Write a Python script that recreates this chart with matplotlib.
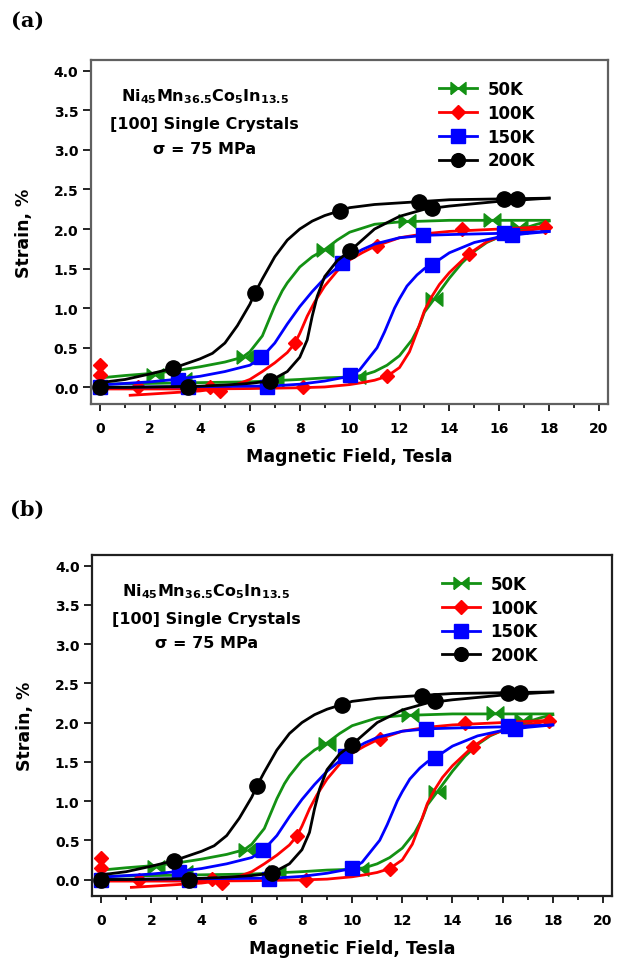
import matplotlib
matplotlib.use('Agg')
import matplotlib.pyplot as plt
from matplotlib.lines import Line2D
from matplotlib.path import Path

plt.rcParams['font.family'] = ['DejaVu Sans']
plt.rcParams['font.weight'] = 'bold'
plt.rcParams['mathtext.fontset'] = 'custom'
plt.rcParams['mathtext.bf'] = 'DejaVu Sans:bold'
plt.rcParams['mathtext.rm'] = 'DejaVu Sans:bold'
plt.rcParams['mathtext.default'] = 'bf'

labels = ['50K', '100K', '150K', '200K']
colors = ['#139113', '#ff0000', '#0000ff', '#000000']

# 50K
g_left_x = [0, 1, 2.2, 3, 4, 5, 5.7, 6, 6.5, 7, 7.3, 7.5, 8, 8.5, 9, 9.5, 10, 11, 12, 14, 16, 18]
g_left_y = [0.12, 0.15, 0.18, 0.21, 0.26, 0.32, 0.38, 0.45, 0.65, 1.03, 1.22, 1.32, 1.52, 1.65, 1.74,
            1.86, 1.96, 2.06, 2.09, 2.11, 2.11, 2.11]
g_right_x = [0, 2, 4, 6, 8, 9, 10, 10.5, 11, 11.5, 12, 12.5, 12.8, 13, 13.4, 14, 14.5, 15, 15.5, 16,
             16.5, 17, 17.5, 18]
g_right_y = [0.04, 0.05, 0.06, 0.07, 0.1, 0.12, 0.13, 0.15, 0.2, 0.28, 0.4, 0.6, 0.78, 0.95, 1.12, 1.38,
             1.57, 1.72, 1.83, 1.9, 1.95, 2.01, 2.06, 2.1]
g_pts_x = [2.2, 3.3, 5.8, 7.0, 9.0, 10.3, 12.3, 13.4, 15.7, 16.8]
g_pts_y = [0.16, 0.1, 0.38, 0.09, 1.73, 0.13, 2.10, 1.12, 2.12, 2.03]

# 100K
r_left_x = [1.2, 2, 3, 4, 5, 5.5, 6, 6.5, 7, 7.5, 7.8, 8, 8.3, 8.6, 9, 9.5, 10, 10.5, 11, 12, 13, 14, 16, 18]
r_left_y = [-0.1, -0.085, -0.065, -0.045, -0.005, 0.04, 0.1, 0.2, 0.31, 0.44, 0.555, 0.68, 0.9, 1.08,
            1.28, 1.47, 1.61, 1.7, 1.78, 1.89, 1.94, 1.97, 2.0, 2.03]
r_right_x = [0, 2, 4, 6, 8, 9, 10, 10.5, 11, 11.5, 12, 12.4, 12.7, 13, 13.3, 13.6, 14, 14.5, 14.8, 15.5,
             16, 16.7, 17.5, 18]
r_right_y = [-0.02, -0.02, -0.02, -0.015, -0.005, 0.005, 0.035, 0.06, 0.09, 0.14, 0.25, 0.45, 0.7, 0.97,
             1.15, 1.3, 1.45, 1.6, 1.69, 1.84, 1.9, 1.96, 2.0, 2.03]
r_pts_x = [0, 0, 1.5, 4.4, 4.8, 7.8, 8.15, 11.1, 11.5, 14.5, 14.8, 17.85]
r_pts_y = [0.28, 0.15, 0.0, 0.01, -0.04, 0.555, 0.0, 1.79, 0.14, 2.0, 1.69, 2.02]

# 150K
b_left_x = [0, 1, 2, 3, 4, 5, 6, 6.45, 7, 7.5, 8, 8.5, 9, 9.5, 10, 10.5, 11, 12, 13, 14, 16, 18]
b_left_y = [0.03, 0.05, 0.07, 0.1, 0.14, 0.2, 0.28, 0.37, 0.56, 0.8, 1.02, 1.21, 1.38, 1.51, 1.65,
            1.74, 1.81, 1.89, 1.92, 1.93, 1.945, 1.97]
b_right_x = [0, 2, 4, 6, 7, 8, 9, 10, 10.4, 10.8, 11.1, 11.4, 11.6, 11.8, 12.0, 12.3, 12.7, 13.0, 13.3,
             14, 15, 16, 17, 18]
b_right_y = [0.0, 0.005, 0.01, 0.015, 0.02, 0.04, 0.08, 0.14, 0.22, 0.38, 0.5, 0.7, 0.85, 1.0, 1.12,
             1.28, 1.42, 1.5, 1.55, 1.7, 1.83, 1.9, 1.94, 1.97]
b_pts_x = [0, 3.1, 3.5, 6.45, 6.7, 9.7, 10.0, 12.95, 13.3, 16.2, 16.5]
b_pts_y = [0.0, 0.09, 0.0, 0.38, 0.01, 1.57, 0.15, 1.92, 1.55, 1.95, 1.92]

# 200K
k_left_x = [0, 1, 2, 2.9, 4, 4.5, 5, 5.5, 6, 6.2, 6.5, 7, 7.5, 8, 8.5, 9, 9.6, 10, 11, 12, 13, 14, 16, 18]
k_left_y = [0.06, 0.1, 0.17, 0.24, 0.36, 0.43, 0.56, 0.78, 1.05, 1.19, 1.37, 1.65, 1.86, 2.0, 2.1,
            2.17, 2.23, 2.27, 2.31, 2.33, 2.35, 2.37, 2.38, 2.39]
k_right_x = [0, 1, 2, 3, 4, 5, 6, 6.8, 7.5, 8, 8.3, 8.5, 8.7, 9, 9.5, 10, 11, 12, 13, 14, 15, 16, 17, 18]
k_right_y = [0.0, 0.0, 0.005, 0.01, 0.015, 0.03, 0.05, 0.08, 0.2, 0.38, 0.6, 0.9, 1.15, 1.4, 1.6, 1.72,
             2.0, 2.16, 2.25, 2.29, 2.32, 2.35, 2.37, 2.39]
k_pts_x = [0, 2.9, 3.5, 6.2, 6.8, 9.6, 10.0, 12.8, 13.3, 16.2, 16.7]
k_pts_y = [0.0, 0.24, 0.0, 1.19, 0.08, 2.23, 1.72, 2.34, 2.27, 2.38, 2.38]

# bowtie marker for 50K
bowtie = Path([(-1, -0.8), (-1, 0.8), (0, 0), (1, 0.8), (1, -0.8), (0, 0), (-1, -0.8)])

series = [
    (g_left_x, g_left_y, g_right_x, g_right_y, g_pts_x, g_pts_y, bowtie, 12),
    (r_left_x, r_left_y, r_right_x, r_right_y, r_pts_x, r_pts_y, 'D', 7.5),
    (b_left_x, b_left_y, b_right_x, b_right_y, b_pts_x, b_pts_y, 's', 10.5),
    (k_left_x, k_left_y, k_right_x, k_right_y, k_pts_x, k_pts_y, 'o', 11),
]


def draw_panel(ax, frame_color):
    for (lx, ly, rx, ry, px, py, m, ms), c in zip(series, colors):
        ax.plot(lx, ly, color=c, lw=2)
        ax.plot(rx, ry, color=c, lw=2)
        ax.plot(px, py, ls='none', marker=m, ms=ms, color=c, mec=c)

    ax.set_xlim(-0.37, 20.36)
    ax.set_ylim(-0.21, 4.135)
    ax.set_xticks(range(0, 21, 2))
    ax.set_xticks(range(1, 20, 2), minor=True)
    ax.set_yticks([0, 0.5, 1.0, 1.5, 2.0, 2.5, 3.0, 3.5, 4.0])
    ax.set_yticklabels(['0.0', '0.5', '1.0', '1.5', '2.0', '2.5', '3.0', '3.5', '4.0'])
    ax.tick_params(axis='x', which='major', direction='out', length=5, width=1.2, pad=7,
                   labelsize=10)
    ax.tick_params(axis='x', which='minor', direction='out', length=3, width=1.2)
    ax.tick_params(axis='y', which='major', direction='out', length=6, width=1.2, pad=3,
                   labelsize=10)
    for lab in ax.get_xticklabels() + ax.get_yticklabels():
        lab.set_fontweight('bold')
    for sp in ax.spines.values():
        sp.set_color(frame_color)
        sp.set_linewidth(1.6)

    ax.set_xlabel('Magnetic Field, Tesla', fontsize=12.5, fontweight='bold')
    ax.set_ylabel('Strain, %', fontsize=12.5, fontweight='bold')
    ax.xaxis.set_label_coords(0.5, -0.125)
    ax.yaxis.set_label_coords(-0.112, 0.5)

    ax.text(0.22, 0.895, r'Ni$_{45}$Mn$_{36.5}$Co$_{5}$In$_{13.5}$', transform=ax.transAxes,
            ha='center', va='center', fontsize=11.5, fontweight='bold')
    ax.text(0.22, 0.814, '[100] Single Crystals', transform=ax.transAxes,
            ha='center', va='center', fontsize=11.5, fontweight='bold')
    ax.text(0.22, 0.744, 'σ = 75 MPa', transform=ax.transAxes,
            ha='center', va='center', fontsize=11.5, fontweight='bold')

    handles = [Line2D([], [], color=c, lw=2, marker=s[6], ms=s[7] * 0.9, mec=c)
               for s, c in zip(series, colors)]
    ax.legend(handles, labels, loc='upper left', bbox_to_anchor=(0.673, 0.942),
              frameon=False, borderpad=0, borderaxespad=0, handlelength=2.3,
              handletextpad=0.6, labelspacing=0.35, prop={'size': 12, 'weight': 'bold'})


fig = plt.figure(figsize=(6.24, 9.62), dpi=100)
ax_a = fig.add_axes([91 / 624, 1 - 405 / 962, 517 / 624, 344 / 962])
ax_b = fig.add_axes([92 / 624, 1 - 897 / 962, 520 / 624, 341 / 962])
draw_panel(ax_a, '#606060')
draw_panel(ax_b, '#202020')

fig.text(11 / 624, 1 - 21 / 962, '(a)', family='DejaVu Serif', fontweight='bold', fontsize=15,
         ha='left', va='center')
fig.text(10 / 624, 1 - 510 / 962, '(b)', family='DejaVu Serif', fontweight='bold', fontsize=15,
         ha='left', va='center')

plt.savefig('out.png', dpi=100)
